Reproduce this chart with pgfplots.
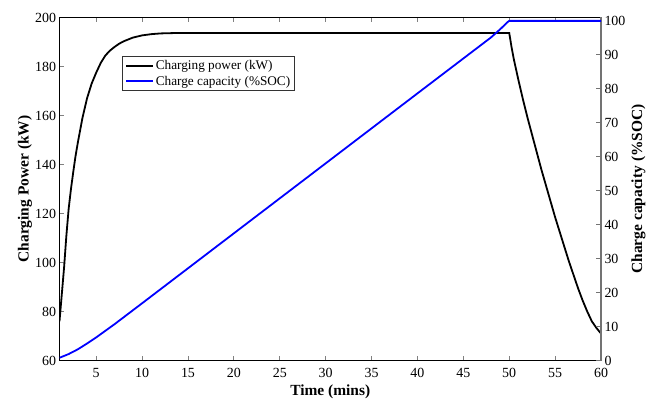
\documentclass[border=0pt]{standalone}
\usepackage{fontspec}
\setmainfont{Liberation Serif}
\usepackage{pgfplots}
\pgfplotsset{compat=1.18}
\usetikzlibrary{calc}

\pgfplotsset{
  common/.style={
    width=541.5bp, height=343bp, scale only axis,
    xmin=1, xmax=60,
    tick align=inside, major tick length=5bp,
    /pgf/number format/assume math mode=true,
    tick label style={font=\fontsize{14}{16}\selectfont},
  }
}

\begin{document}
\begin{tikzpicture}
\begin{axis}[common,
  ymin=60, ymax=200,
  ytick={60,80,...,200},
  xtick={5,10,...,60},
  axis x line*=box, axis y line*=left,
  xtick pos=both, ytick pos=left,
  axis line style={line width=0.9bp},
  xtick style={line width=0.8bp}, ytick style={line width=0.8bp},
  xticklabel style={yshift=-4bp},
  xlabel={Time (mins)},
  ylabel={Charging Power (kW)},
  every axis x label/.style={at={(axis description cs:0.5,-0.09)}, anchor=center, font=\fontsize{15.5}{18}\selectfont\bfseries},
  every axis y label/.style={at={(axis description cs:-0.0637,0.5)}, rotate=90, anchor=center, font=\fontsize{15.5}{18}\selectfont\bfseries},
  legend style={at={(axis description cs:0.116,0.888)}, anchor=north west,
    draw=black!80, line width=0.8bp, font=\fontsize{13.3}{15}\selectfont,
    inner sep=2.5bp, row sep=1bp, nodes={inner sep=1.8bp}},
  legend cell align=left,
  legend image code/.code={\draw[#1] (0bp,0bp) -- (27bp,0bp);},
]
\coordinate (bl) at (rel axis cs:0,0);
\coordinate (tr) at (rel axis cs:1,1);
\addplot[black, line width=1.8bp] coordinates {
(1,76) (1.25,87) (1.5,98) (1.75,111) (2,122) (2.25,130) (2.5,137) (2.75,143.5)
(3,149) (3.5,159) (4,167) (4.5,173) (5,177.5) (5.5,181.5) (6,184.5) (6.5,186.5)
(7,188) (7.5,189.3) (8,190.3) (9,191.8) (10,192.7) (11,193.2) (12,193.5) (14,193.7)
(20,193.7) (30,193.7) (40,193.7) (50,193.7)
(50.25,188) (50.5,183) (51,174.5) (51.5,166.5) (52,159) (52.5,152) (53,145)
(53.5,138) (54,131.5) (54.5,125) (55,118.5) (55.5,112.5) (56,106.5) (56.5,100.5)
(57,95) (57.5,89.5) (58,84.5) (58.5,80) (59,76) (59.5,73.3) (60,71)
};
\addlegendentry{Charging power (kW)}
\addlegendimage{blue, line width=1.8bp}
\addlegendentry{Charge capacity (\%SOC)}
\end{axis}
\begin{axis}[common,
  ymin=0, ymax=101,
  ytick={0,10,...,100},
  axis y line*=right, axis x line=none,
  y axis line style={black!55, line width=1.2bp},
  ytick style={draw=black!55, line width=0.8bp},
  ylabel={Charge capacity (\%SOC)},
  every axis y label/.style={at={(axis description cs:1.0693,0.5)}, rotate=90, anchor=center, font=\fontsize{15.5}{18}\selectfont\bfseries},
]
\addplot[blue, line width=1.8bp] coordinates {
(1,0.8) (2,1.9) (3,3.3) (4,5.0) (5,6.8) (6,8.75) (7,10.7) (8,12.75) (9,14.8)
(10,16.85) (20,37.45) (30,58.05) (40,78.65) (48,95.1) (48.5,96.3) (49,97.5)
(49.5,98.8) (49.8,99.6) (50,100) (60,100)
};
\end{axis}
\pgfresetboundingbox
\path ($(bl)+(-59.5bp,-40.5bp)$) rectangle ($(tr)+(57bp,17.5bp)$);
\end{tikzpicture}
\end{document}
